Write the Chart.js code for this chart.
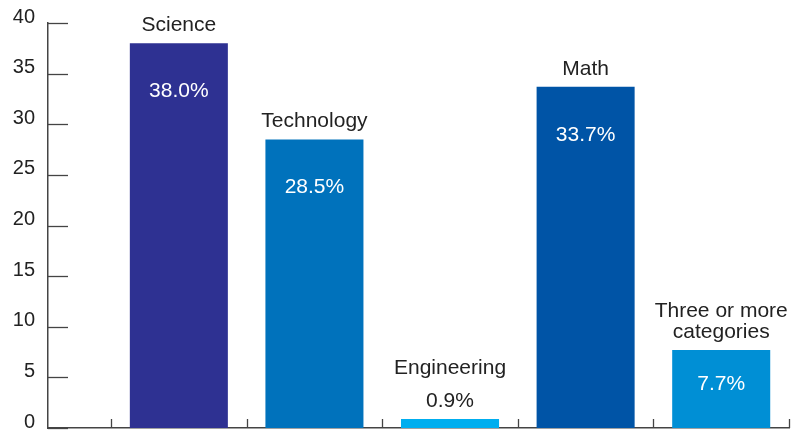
<!DOCTYPE html>
<html>
<head>
<meta charset="utf-8">
<script src="https://cdn.jsdelivr.net/npm/chart.js@4"></script>
<style>
  html, body { margin: 0; padding: 0; background: #fff; }
  #wrap { width: 796px; height: 436px; position: relative; }
</style>
</head>
<body>
<div id="wrap"><canvas id="c"></canvas></div>
<script>
// data
const categories = ['Science', 'Technology', 'Engineering', 'Math', ['Three or more', 'categories']];
const values = [38.0, 28.5, 0.9, 33.7, 7.7];
const barColors = ['#2e3192', '#0072bc', '#00aeef', '#0054a6', '#008fd5'];
const yTicks = [0, 5, 10, 15, 20, 25, 30, 35, 40];

const axisColor = '#444';
const textColor = '#222';
const fontFamily = '"Liberation Sans", Arial, Helvetica, sans-serif';

// tick marks drawn inside the plot, plus bar labels
const decor = {
	id: 'decor',
	afterDraw(chart) {
		const ctx = chart.ctx;
		const area = chart.chartArea;
		const xs = chart.scales.x;
		const ys = chart.scales.y;
		ctx.save();
		ctx.strokeStyle = axisColor;
		ctx.lineWidth = 1.3;
		ys.ticks.forEach(t => {
			const y = Math.round(ys.getPixelForValue(t.value)) + 0.5;
			ctx.beginPath(); ctx.moveTo(area.left, y); ctx.lineTo(area.left + 20, y); ctx.stroke();
		});
		xs.ticks.forEach(t => {
			const x = Math.round(xs.getPixelForValue(t.value)) + 0.5;
			ctx.beginPath(); ctx.moveTo(x, area.bottom); ctx.lineTo(x, area.bottom - 9); ctx.stroke();
		});

		const meta = chart.getDatasetMeta(0);
		ctx.textAlign = 'center';
		ctx.textBaseline = 'alphabetic';
		meta.data.forEach((bar, i) => {
			const top = bar.y;
			const h = bar.base - bar.y;
			const valTxt = values[i].toFixed(1) + '%';
			let labelBase = top - 12;
			ctx.font = '21px ' + fontFamily;
			if (h > 40) {
				ctx.fillStyle = '#fff';
				ctx.fillText(valTxt, bar.x, top + Math.min(54, h / 2 + 1));
			} else {
				ctx.fillStyle = textColor;
				ctx.fillText(valTxt, bar.x, top - 12);
				labelBase = top - 45;
			}
			const lines = Array.isArray(categories[i]) ? categories[i] : [categories[i]];
			ctx.fillStyle = textColor;
			lines.slice().reverse().forEach((ln, k) => {
				ctx.fillText(ln, bar.x, labelBase - k * 21);
			});
		});
		ctx.restore();
	}
};

new Chart(document.getElementById('c'), {
	type: 'bar',
	data: {
		datasets: [{
			data: values.map((v, i) => ({ x: i, y: v })),
			backgroundColor: barColors,
			borderWidth: 0,
			barPercentage: 0.723,
			categoryPercentage: 1
		}]
	},
	options: {
		responsive: true, maintainAspectRatio: false,
		animation: false,
		layout: { padding: { top: 23, right: 7, left: 0, bottom: 0 } },
		plugins: { legend: { display: false }, tooltip: { enabled: false } },
		scales: {
			x: {
				type: 'linear', offset: false,
				min: -0.965, max: 4.5,
				afterBuildTicks: s => { s.ticks = [-0.5, 0.5, 1.5, 2.5, 3.5, 4.5].map(v => ({ value: v })); },
				afterFit: s => { s.height = 8; s.paddingLeft = 0; s.paddingRight = 0; },
				ticks: { display: false },
				grid: { display: false },
				border: { display: true, color: axisColor, width: 1.5 }
			},
			y: {
				min: 0, max: 40,
				afterBuildTicks: s => { s.ticks = yTicks.map(v => ({ value: v })); },
				afterFit: s => { s.width = 48; s.paddingTop = 0; s.paddingBottom = 0; },
				ticks: { color: textColor, font: { family: fontFamily, size: 20 }, padding: 13, labelOffset: -6 },
				grid: { display: false, drawTicks: false },
				border: { display: true, color: axisColor, width: 1.5 }
			}
		}
	},
	plugins: [decor]
});
</script>
</body>
</html>
